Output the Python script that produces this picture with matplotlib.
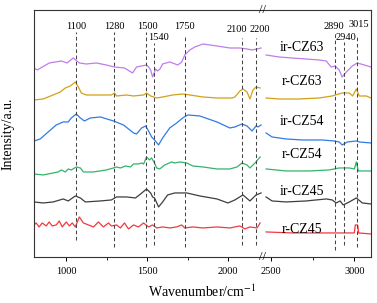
import matplotlib
matplotlib.use('Agg')
import matplotlib.pyplot as plt
import numpy as np

plt.rcParams['font.family'] = ['Liberation Serif', 'DejaVu Serif']
plt.rcParams['mathtext.fontset'] = 'stix'

# Datos (wavenumber cm-1, intensidad a.u. con desplazamiento)
ir63_l_x = [800, 820, 895, 970, 1005, 1043, 1081, 1124, 1186, 1248, 1298, 1360, 1410, 1435, 1497, 1509,
            1522, 1534, 1553, 1565, 1580, 1596, 1640, 1690, 1714, 1733, 1764, 1795, 1845, 1932, 2012,
            2074, 2118, 2149, 2180, 2205]
ir63_l_y = [189, 187, 194, 196, 194, 199, 194, 193, 194, 192, 190, 189, 184, 190, 192, 190,
            187, 180, 188, 186, 188, 193, 195, 192, 195, 202, 207, 210, 213, 211, 209,
            209, 208, 207, 208, 209]
ir63_r_x = [2470, 2548, 2626, 2711, 2789, 2831, 2861, 2885, 2909, 2927, 2952, 2988, 3018, 3060, 3100]
ir63_r_y = [202, 200, 199, 198, 197, 196, 190, 191, 187, 180, 185, 191, 194, 192, 190]

r63_l_x = [800, 857, 919, 963, 994, 1025, 1056, 1075, 1093, 1124, 1211, 1279, 1298, 1311, 1373, 1416,
           1478, 1497, 1522, 1559, 1596, 1658, 1720, 1764, 1845, 1932, 2025, 2043, 2074, 2093, 2118,
           2136, 2155, 2174, 2199]
r63_l_y = [157, 158, 162, 165, 169, 171, 175, 170, 164, 162, 162, 162, 164, 161, 162, 161,
           162, 164, 161, 159, 160, 162, 163, 162, 160, 159, 159, 160, 166, 168, 165,
           158, 167, 170, 169]
r63_r_x = [2470, 2548, 2669, 2789, 2867, 2927, 2970, 2990, 3012, 3030, 3072, 3100]
r63_r_y = [159, 158, 158, 159, 161, 164, 164, 161, 168, 161, 161, 159]

ir54_l_x = [800, 839, 888, 938, 981, 1012, 1031, 1062, 1087, 1112, 1149, 1211, 1292, 1354, 1416, 1435,
            1466, 1491, 1509, 1515, 1528, 1546, 1571, 1596, 1640, 1683, 1720, 1751, 1826, 1932, 2012,
            2043, 2087, 2118, 2149, 2174, 2186, 2205]
ir54_l_y = [116, 118, 125, 132, 135, 135, 139, 143, 139, 136, 139, 140, 136, 132, 124, 123,
            129, 131, 126, 124, 120, 117, 112, 119, 129, 134, 139, 142, 141, 135, 129,
            130, 133, 131, 126, 131, 130, 132]
ir54_r_x = [2470, 2506, 2590, 2687, 2807, 2879, 2909, 2927, 2958, 3012, 3030, 3100]
ir54_r_y = [124, 120, 118, 117, 117, 116, 115, 112, 115, 116, 115, 114]

r54_l_x = [800, 857, 919, 950, 969, 994, 1012, 1031, 1062, 1087, 1106, 1168, 1248, 1292, 1311, 1335,
           1366, 1397, 1416, 1447, 1466, 1478, 1497, 1515, 1528, 1546, 1559, 1578, 1609, 1652, 1671,
           1702, 1745, 1782, 1845, 1932, 2012, 2056, 2087, 2118, 2136, 2168, 2199]
r54_l_y = [83, 82, 84, 85, 87, 85, 88, 87, 90, 89, 85, 85, 87, 89, 90, 89,
           91, 90, 93, 93, 94, 93, 100, 97, 99, 94, 89, 88, 92, 95, 94,
           95, 94, 91, 90, 88, 88, 90, 94, 92, 89, 94, 100]
r54_r_x = [2470, 2590, 2729, 2849, 2909, 2970, 3000, 3012, 3024, 3100]
r54_r_y = [88, 86, 86, 87, 89, 89, 88, 95, 86, 86]

ir45_l_x = [800, 857, 919, 981, 1012, 1056, 1087, 1118, 1211, 1279, 1311, 1373, 1428, 1460, 1497, 1522,
            1534, 1546, 1571, 1596, 1627, 1671, 1745, 1826, 1932, 2000, 2043, 2093, 2136, 2174, 2205]
ir45_l_y = [55, 54, 55, 58, 56, 61, 59, 55, 56, 57, 60, 60, 59, 63, 68, 64,
            60, 59, 50, 55, 62, 64, 64, 61, 58, 54, 57, 62, 56, 62, 64]
ir45_r_x = [2470, 2506, 2590, 2711, 2831, 2867, 2891, 2915, 2933, 2970, 3012, 3048, 3100]
ir45_r_y = [60, 56, 55, 56, 58, 57, 54, 56, 52, 55, 59, 54, 53]

r45_l_x = [800, 814, 832, 851, 876, 894, 913, 938, 957, 975, 1000, 1019, 1037, 1056, 1081, 1106,
           1137, 1168, 1199, 1230, 1261, 1279, 1311, 1335, 1360, 1385, 1416, 1447, 1478, 1509, 1534,
           1559, 1596, 1640, 1683, 1714, 1733, 1782, 1845, 1932, 2012, 2074, 2105, 2136, 2180, 2199]
r45_l_y = [32, 34, 30, 34, 31, 35, 31, 32, 36, 30, 35, 31, 34, 30, 40, 34,
           32, 30, 35, 30, 34, 31, 32, 29, 34, 28, 32, 30, 34, 30, 32,
           29, 30, 29, 30, 32, 29, 30, 29, 30, 29, 31, 28, 30, 29, 34]
r45_r_x = [2470, 2626, 2831, 3000, 3006, 3020, 3026, 3100]
r45_r_y = [25, 24, 24, 24, 32, 32, 24, 23]

series = [
    ('ir-CZ63', ir63_l_x, ir63_l_y, ir63_r_x, ir63_r_y, '#C07CEA'),
    ('r-CZ63', r63_l_x, r63_l_y, r63_r_x, r63_r_y, '#D2A116'),
    ('ir-CZ54', ir54_l_x, ir54_l_y, ir54_r_x, ir54_r_y, '#2F7BE8'),
    ('r-CZ54', r54_l_x, r54_l_y, r54_r_x, r54_r_y, '#35B26A'),
    ('ir-CZ45', ir45_l_x, ir45_l_y, ir45_r_x, ir45_r_y, '#3E3E3E'),
    ('r-CZ45', r45_l_x, r45_l_y, r45_r_x, r45_r_y, '#F4383E'),
]
name_x = 2687
name_y = [209, 175, 135, 102, 65, 27]

# lineas de referencia
peak_pos = [1060, 1298, 1495, 1542, 1737, 2085, 2174, 2886, 2936, 3016]
peak_lab = ['1100', '1280', '1500', '1540', '1750', '2100', '2200', '2890', '2940', '3015']
peak_lab_x = [1062, 1298, 1503, 1568, 1733, 2056, 2199, 2879, 2952, 3030]
peak_lab_y = [230, 230, 230, 219, 230, 227, 227, 230, 219, 232]
peak_top = [225, 225, 225, 214, 221, 219, 219, 224, 215, 220]
peak_bot = [17, 10, 10, 12, 10, 12, 12, 7, 12, 10]

# eje x con corte
B1, B2, K, EPS = 2215, 2450, 1.03, 0.001
G = B1 + (B2 - B1) * EPS


def forward(x):
    x = np.asarray(x, dtype=float)
    return np.where(x <= B1, x, np.where(x < B2, B1 + (x - B1) * EPS, G + (x - B2) * K))


def inverse(y):
    y = np.asarray(y, dtype=float)
    return np.where(y <= B1, y, np.where(y < G, B1 + (y - B1) / EPS, B2 + (y - G) / K))


fig = plt.figure(figsize=(3.77, 3.03), dpi=100)
ax = fig.add_axes([0.090, 0.152, 0.894, 0.815])
ax.set_xscale('function', functions=(forward, inverse))

for name, lx, ly, rx, ry, c in series:
    ax.plot(lx, ly, color=c, lw=0.9)
    ax.plot(rx, ry, color=c, lw=0.9)

for i, nm in enumerate([s[0] for s in series]):
    ax.text(name_x, name_y[i], nm, ha='center', va='center', fontsize=10)

for p, lab, lxp, lyp, t, b in zip(peak_pos, peak_lab, peak_lab_x, peak_lab_y, peak_top, peak_bot):
    ax.plot([p, p], [b, t], ls=(0, (3.5, 2.5)), color='#444444', lw=0.75)
    ax.text(lxp, lyp, lab, ha='center', va='center', fontsize=7.5)

ax.set_xlim(800, 3100)
ax.set_ylim(0, 247)
ax.set_xticks([1000, 1500, 2000, 2500, 3000])
ax.set_xticklabels(['1000', '1500', '2000', '2500', '3000'])
ax.set_xticks([1250, 1750, 2750], minor=True)
ax.set_xticklabels([], minor=True)
ax.tick_params(axis='x', which='major', labelsize=7.5, length=3, width=0.7, pad=4)
ax.tick_params(axis='x', which='minor', length=2, width=0.6)
ax.set_yticks([])
for s in ax.spines.values():
    s.set_linewidth(0.8)
    s.set_color('#333333')

# marcas del corte
for yy in (0, 1):
    ax.text(2330, yy, '//', transform=ax.get_xaxis_transform(), ha='center', va='center',
            fontsize=9, clip_on=False)

ax.set_xlabel('Wavenumber/cm$^{-1}$', fontsize=10, labelpad=6)
ax.set_ylabel('Intensity/a.u.', fontsize=10, labelpad=14)

fig.savefig('out.png', dpi=100)
